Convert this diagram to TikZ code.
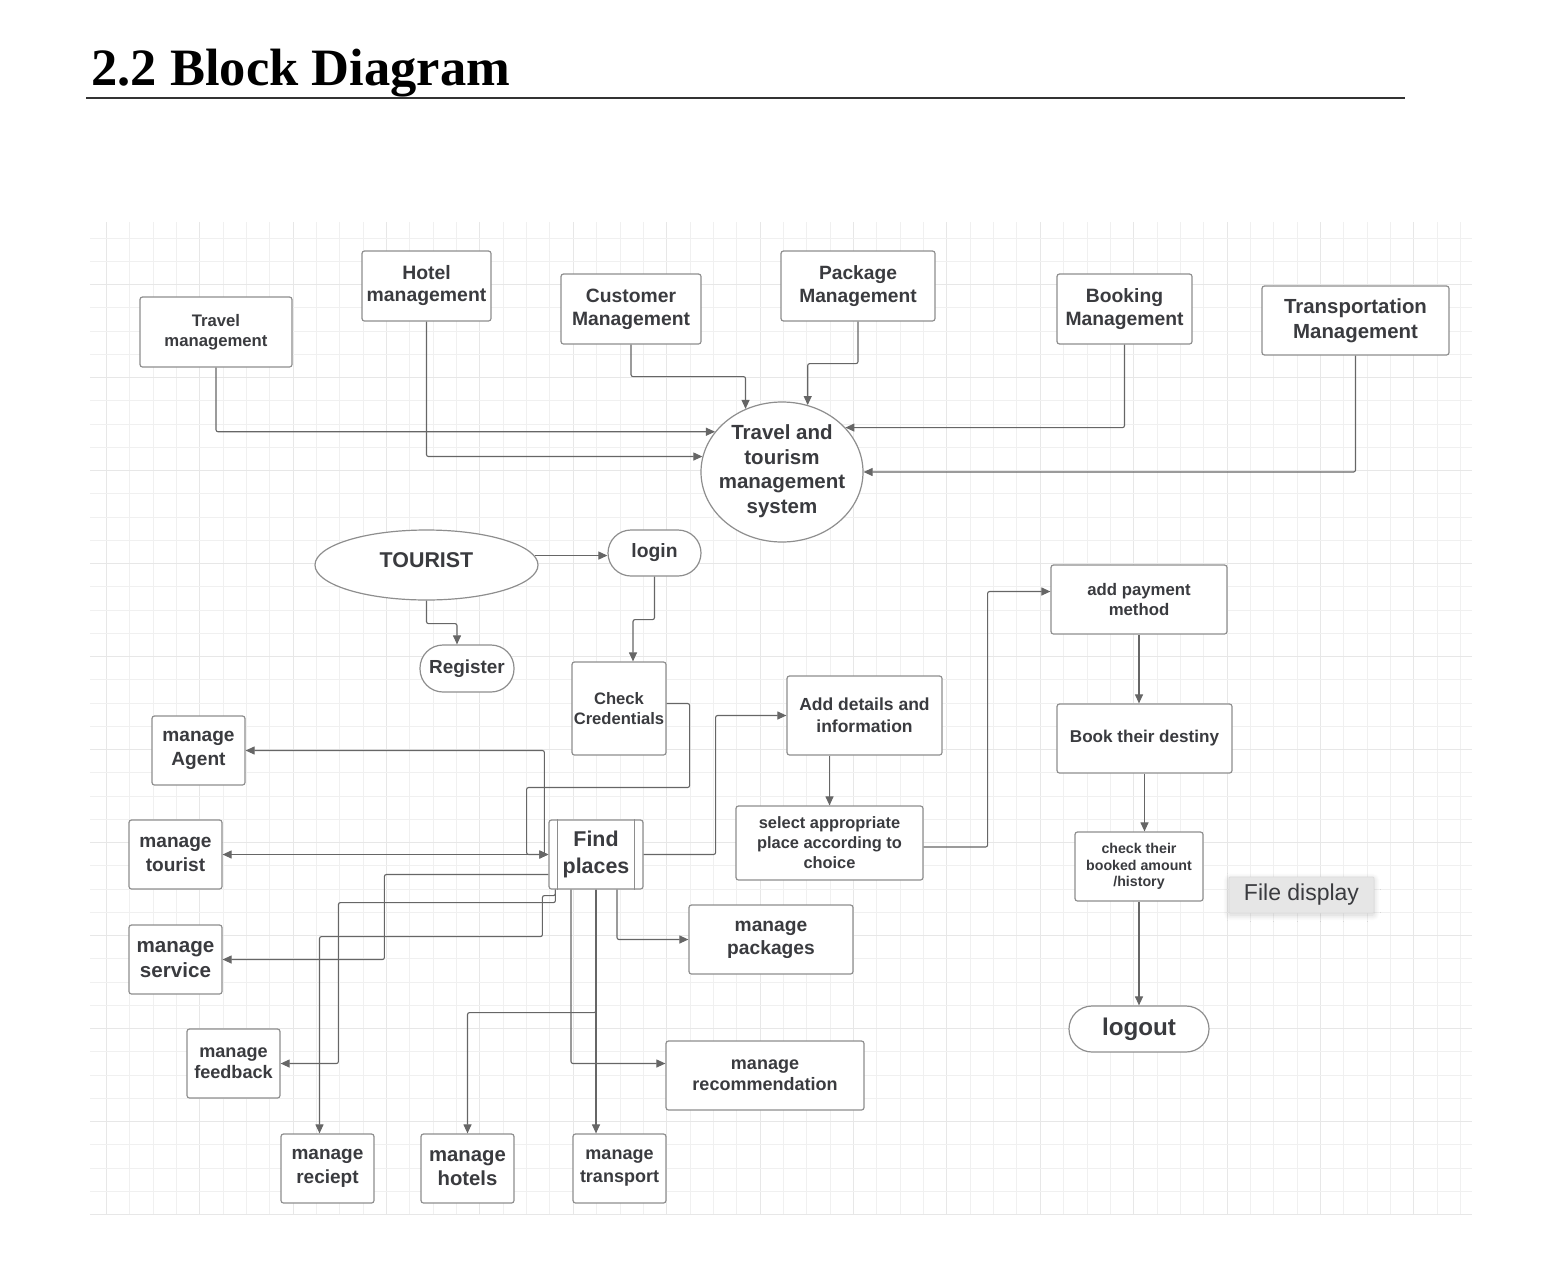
\documentclass[tikz,border=0pt]{standalone}
\usepackage{fontspec}
\setmainfont{Liberation Serif}
\setsansfont{Liberation Sans}
\usepackage{tikz}
\usetikzlibrary{
  arrows.meta,
  shapes.geometric,
  shadows.blur
}

\definecolor{boxgray}{HTML}{8E8E8E}
\definecolor{linegray}{HTML}{666666}
\definecolor{txtgray}{HTML}{3A3B3F}
\definecolor{gridminor}{HTML}{F0F0F0}
\definecolor{gridmajor}{HTML}{E7E7E7}
\definecolor{tipgray}{HTML}{E6E6E6}

\newcommand{\fb}[2]{\sffamily\bfseries\fontsize{#1}{#2}\selectfont}

\tikzset{
  blk/.style={draw=boxgray, line width=1.2pt, rounded corners=2.5pt, fill=white,
    align=center, text=txtgray, inner sep=0pt},
  pill/.style={blk, rounded corners=23pt},
  oval/.style={ellipse, draw=boxgray, line width=1.2pt, fill=white, inner sep=0pt},
  arr/.style={draw=linegray, line width=1.1pt, rounded corners=2pt,
    -{Triangle[length=9pt,width=8pt]}},
  arr2/.style={arr, {Triangle[length=9pt,width=8pt]}-{Triangle[length=9pt,width=8pt]}}
}

\begin{document}
\begin{tikzpicture}[x=1pt, y=-1pt]
\useasboundingbox (0,0) rectangle (1548,1288);

% heading
\node[anchor=base west, font=\rmfamily\bfseries\fontsize{52.5}{60}\selectfont] (title) at (88,85) {2.2 Block Diagram};
\draw[line width=1.5pt, black!80] (86,98) -- (1405,98);

% grid paper
\foreach \k in {0,...,58}
  \draw[gridminor, line width=1pt] ({106.3+23.35*\k},222) -- ({106.3+23.35*\k},1215);
\foreach \k in {0,4,...,56}
  \draw[gridmajor, line width=1pt] ({106.3+23.35*\k},222) -- ({106.3+23.35*\k},1215);
\foreach \k in {0,...,42}
  \draw[gridminor, line width=1pt] (90,{238+23.25*\k}) -- (1472,{238+23.25*\k});
\foreach \k in {2,6,...,42}
  \draw[gridmajor, line width=1pt] (90,{238+23.25*\k}) -- (1472,{238+23.25*\k});

% top row
\node[blk, minimum width=152, minimum height=70, font=\fb{16.7}{20}] (travel) at (216,332) {Travel\\management};
\node[blk, minimum width=129, minimum height=70, font=\fb{19.4}{22}] (hotel) at (426.5,286) {Hotel\\management};
\node[blk, minimum width=140, minimum height=70, font=\fb{19.3}{23}] (cust) at (631,309) {Customer\\Management};
\node[blk, minimum width=154, minimum height=70, font=\fb{19.2}{23}] (pack) at (858,286) {Package\\Management};
\node[blk, minimum width=135, minimum height=70, font=\fb{19.3}{23}] (book) at (1124.5,309) {Booking\\Management};
\node[blk, minimum width=187, minimum height=69, font=\fb{20.4}{25}] (trans) at (1355.5,320.5) {Transportation\\Management};

\node[oval, minimum width=162, minimum height=140] (sys) at (782,472) {};
\node[align=center, text=txtgray, inner sep=0pt, font=\fb{20.5}{24.5}] (systxt) at (782,471) {Travel and\\tourism\\management\\system};

% tourist side
\node[oval, minimum width=223, minimum height=70] (tour) at (426.5,565) {};
\node[text=txtgray, inner sep=0pt, font=\fb{21.4}{25}] (tourtxt) at (426.5,560) {TOURIST};
\node[pill, minimum width=93, minimum height=46, font=\fb{19.3}{23}] (login) at (654.5,553) {login};
\node[pill, minimum width=94, minimum height=47, font=\fb{18.9}{23}] (reg) at (467,668.5) {Register};
\node[blk, minimum width=94, minimum height=93, font=\fb{16.6}{20}] (chk) at (619,708.5) {Check\\Credentials};
\node[blk, minimum width=155, minimum height=79, font=\fb{17.5}{22}] (add) at (864.5,715.5) {Add details and\\information};
\node[blk, minimum width=187, minimum height=74, font=\fb{16.4}{20}] (sel) at (829.5,843) {select appropriate\\place according to\\choice};

% booking column
\node[blk, minimum width=176, minimum height=69, font=\fb{16.75}{20}] (pay) at (1139,599.5) {add payment\\method};
\node[blk, minimum width=175, minimum height=69, font=\fb{17.1}{20}] (dest) at (1144.5,738.5) {Book their destiny};
\node[blk, minimum width=128, minimum height=69, font=\fb{14.2}{16.7}] (hist) at (1139,866.5) {check their\\booked amount\\/history};
\node[pill, minimum width=140, minimum height=46, font=\fb{24.2}{28}] (logout) at (1139,1029) {logout};
\node[fill=tipgray, draw=black!14, line width=0.8pt, rounded corners=1pt,
  blur shadow={shadow blur steps=8, shadow blur radius=6pt, shadow xshift=0pt, shadow yshift=-2pt, shadow opacity=18},
  minimum width=145, minimum height=36, inner sep=0pt, text=txtgray,
  font=\sffamily\fontsize{23}{27}\selectfont] (fdisp) at (1301.5,895) {File display};

% admin side
\node[blk, minimum width=94, minimum height=69, font=\fb{21.4}{27.5}] (find) at (596,854.5) {Find\\places};
\draw[boxgray, line width=1.2pt] ([xshift=9pt]find.north west) -- ([xshift=9pt]find.south west);
\draw[boxgray, line width=1.2pt] ([xshift=-9pt]find.north east) -- ([xshift=-9pt]find.south east);

\node[blk, minimum width=93, minimum height=69, font=\fb{19.1}{24}] (agent) at (198.5,750.5) {manage\\Agent};
\node[blk, minimum width=93, minimum height=69, font=\fb{19.1}{24}] (tourist) at (175.5,854.5) {manage\\tourist};
\node[blk, minimum width=93, minimum height=69, font=\fb{20.6}{25}] (service) at (175.5,959.5) {manage\\service};
\node[blk, minimum width=93, minimum height=69, font=\fb{18.1}{20.7}] (feed) at (233.5,1063.5) {manage\\feedback};
\node[blk, minimum width=93, minimum height=69, font=\fb{19}{23.7}] (recpt) at (327.5,1168.5) {manage\\reciept};
\node[blk, minimum width=93, minimum height=69, font=\fb{20.3}{24}] (hotels) at (467.5,1168.5) {manage\\hotels};
\node[blk, minimum width=93, minimum height=69, font=\fb{18}{23}] (transp) at (619.5,1168.5) {manage\\transport};
\node[blk, minimum width=198, minimum height=69, font=\fb{18}{21}] (recom) at (765,1075.5) {manage\\recommendation};
\node[blk, minimum width=164, minimum height=69, font=\fb{19.2}{23}] (pkgs) at (771,939.5) {manage\\packages};

% into the system
\draw[arr] (travel.south) |- (sys.149);
\draw[arr] (hotel.south) |- (sys.169);
\draw[arr] (cust.south) -- ++(0,32) -| (sys.120);
\draw[arr] (pack.south) -- ++(0,42) -| (sys.69);
\draw[arr] (book.south) |- (sys.35);
\draw[arr] (trans.south) |- (sys.east);

% tourist flow
\draw[arr] (tour.5) -- (tour.5 -| login.west);
\draw[arr] (tour.south) -- ++(0,23) -| ([xshift=-10pt]reg.north);
\draw[arr] (login.south) -- ++(0,43) -| ([xshift=14pt]chk.north);
\draw[arr] ([yshift=5pt]chk.east) -- ++(23,0) -- ++(0,84) -- ++(-163,0) |- (find.west);

% find places fan out
\draw[arr] ([xshift=-4pt]find.west) |- (agent.east);
\draw[arr2] (tourist.east) -- (find.west);
\draw[arr] ([yshift=-20pt]find.west) -- ++(-164,0) |- (service.east);
\draw[arr] ([xshift=7pt]find.south west) -- ++(0,13) -- ++(-217,0) |- (feed.east);
\draw[arr] ([xshift=7pt]find.south west) -- ++(0,6) -- ++(-13,0) -- ++(0,41) -| ([xshift=-8pt]recpt.north);
\draw[arr] (find.south) -- ++(0,123) -| (hotels.north);
\draw[arr] (find.south) -- (find.south |- transp.north);
\draw[arr] ([xshift=-25pt]find.south) |- ([yshift=12pt]recom.west);
\draw[arr] ([xshift=21pt]find.south) |- (pkgs.west);

% booking flow
\draw[arr] (find.east) -- ++(72,0) |- (add.west);
\draw[arr] (add.south -| sel.north) -- (sel.north);
\draw[arr] ([yshift=-4pt]sel.east) -- ++(64,0) |- ([yshift=8pt]pay.west);
\draw[arr] (pay.south) -- (pay.south |- dest.north);
\draw[arr] (dest.south) -- (dest.south |- hist.north);
\draw[arr] (hist.south) -- (logout.north);

\end{tikzpicture}
\end{document}
